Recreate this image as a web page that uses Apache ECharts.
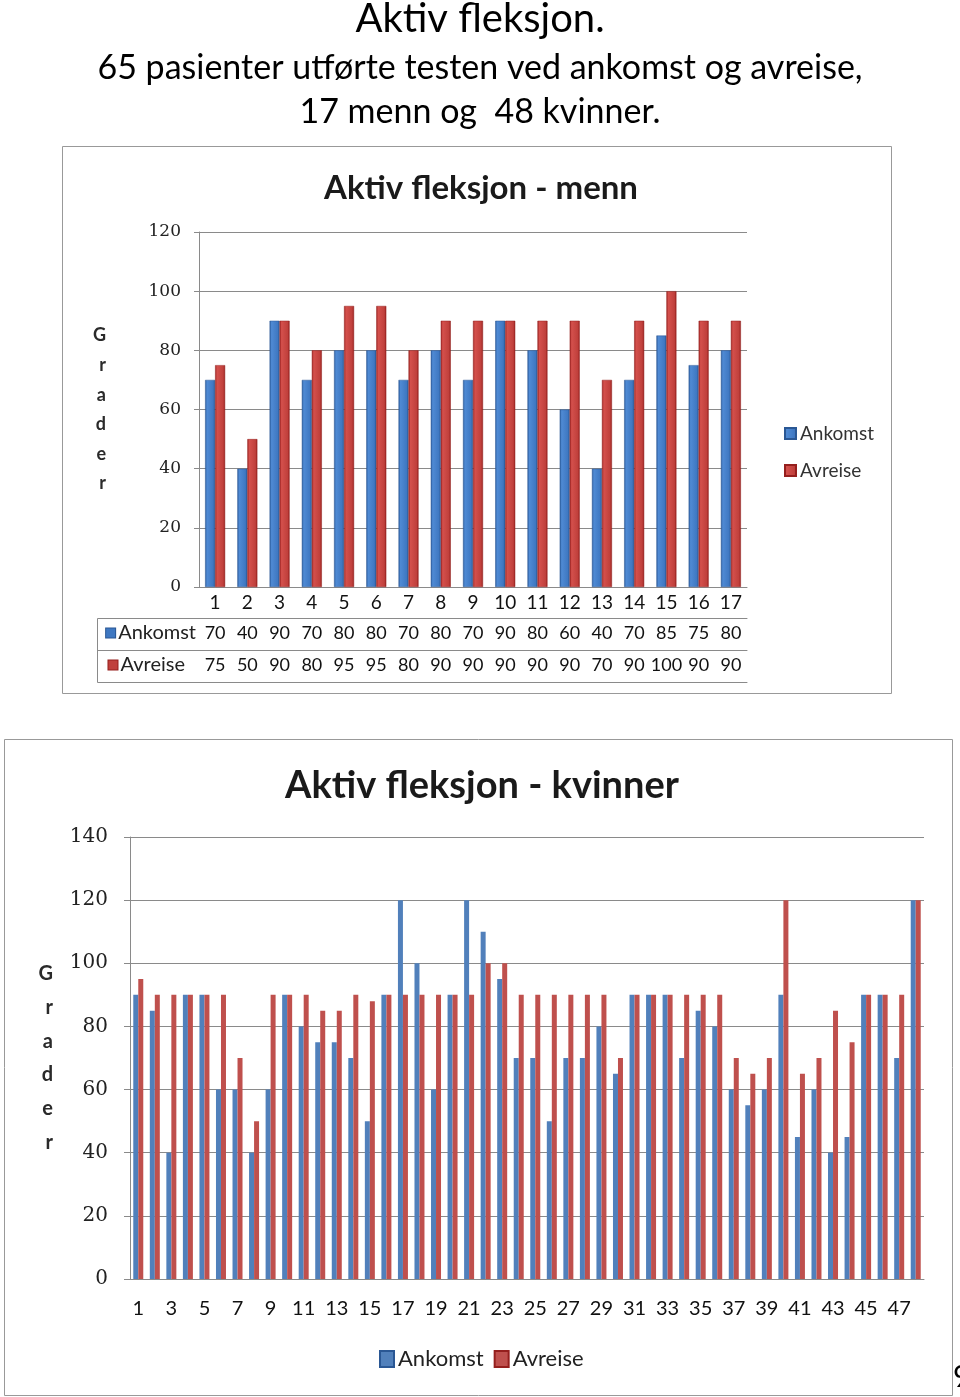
<!DOCTYPE html>
<html>
<head>
<meta charset="utf-8">
<script src="https://cdn.jsdelivr.net/npm/echarts@6/dist/echarts.min.js"></script>
<style>
html,body{margin:0;padding:0;background:#fff;}
#c{width:960px;height:1397px;}
</style>
</head>
<body>
<div id="c"></div>
<script>
// ---- data ----
const menCats = ['1','2','3','4','5','6','7','8','9','10','11','12','13','14','15','16','17'];
const menAnkomst = [70,40,90,70,80,80,70,80,70,90,80,60,40,70,85,75,80];
const menAvreise = [75,50,90,80,95,95,80,90,90,90,90,90,70,90,100,90,90];

const womenCats = ['1','2','3','4','5','6','7','8','9','10','11','12','13','14','15','16','17','18','19','20','21','22','23','24','25','26','27','28','29','30','31','32','33','34','35','36','37','38','39','40','41','42','43','44','45','46','47','48'];
const womenAnkomst = [90,85,40,90,90,60,60,40,60,90,80,75,75,70,50,90,120,100,60,90,120,110,95,70,70,50,70,70,80,65,90,90,90,70,85,80,60,55,60,90,45,60,40,45,90,90,70,120];
const womenAvreise = [95,90,90,90,90,90,70,50,90,90,90,85,85,90,88,90,90,90,90,90,90,100,100,90,90,90,90,90,90,70,90,90,90,90,90,90,70,65,70,120,65,70,85,75,90,90,90,120];

const menTicks = [0,20,40,60,80,100,120];
const womenTicks = [0,20,40,60,80,100,120,140];

// ---- styles ----
const SANS = 'Lato, "Open Sans", sans-serif';
const SERIF = '"DejaVu Serif", serif';
const GRID_C = '#8a8a8a';
const blueGrad = new echarts.graphic.LinearGradient(0,0,1,0,[
  {offset:0,color:'#2c5c9c'},{offset:0.2,color:'#4f8ad4'},{offset:0.8,color:'#3f78c2'},{offset:1,color:'#2a5794'}]);
const redGrad = new echarts.graphic.LinearGradient(0,0,1,0,[
  {offset:0,color:'#9c2422'},{offset:0.2,color:'#d4504c'},{offset:0.8,color:'#c0403c'},{offset:1,color:'#951f1d'}]);
const WBLUE = '#5180bb';
const WRED = '#bf504d';

const chart = echarts.init(document.getElementById('c'), null, {renderer:'canvas'});

const option = {
  backgroundColor:'#fff',
  animation:false,
  title:[
    {text:'Aktiv fleksjon.', left:'center', top:-6, textStyle:{fontFamily:SANS, fontWeight:'normal', fontSize:40, color:'#000'}},
    {text:'65 pasienter utførte testen ved ankomst og avreise,', left:'center', top:46, textStyle:{fontFamily:SANS, fontWeight:'normal', fontSize:34, color:'#000'}},
    {text:'17 menn og  48 kvinner.', left:'center', top:90, textStyle:{fontFamily:SANS, fontWeight:'normal', fontSize:34, color:'#000'}},
    {text:'Aktiv fleksjon - menn', left:476, textAlign:'center', top:167, textStyle:{fontFamily:SANS, fontWeight:'bold', fontSize:33, color:'#1a1a1a'}},
    {text:'Aktiv fleksjon - kvinner', left:477, textAlign:'center', top:762, textStyle:{fontFamily:SANS, fontWeight:'bold', fontSize:38, color:'#1a1a1a'}}
  ],
  legend:[
    {orient:'vertical', left:779, top:419, itemWidth:11, itemHeight:11, itemGap:18, icon:'rect',
     textStyle:{fontFamily:SANS, fontSize:19, color:'#333', padding:[0,0,0,-1]},
     data:['Ankomst','Avreise']},
    {orient:'horizontal', left:374, top:1343, itemWidth:14, itemHeight:16, itemGap:10, icon:'rect',
     textStyle:{fontFamily:SANS, fontSize:22, color:'#222', padding:[0,0,0,-1]},
     data:[{name:'Ankomst', itemStyle:{color:WBLUE}},{name:'Avreise', itemStyle:{color:WRED}}]}
  ],
  grid:[
    {left:199, top:232, width:548, height:355},
    {left:130, top:837, width:794, height:442}
  ],
  xAxis:[
    {gridIndex:0, type:'category', data:menCats, position:'bottom',
     axisLine:{lineStyle:{color:GRID_C}}, axisTick:{length:95, lineStyle:{color:GRID_C}},
     axisLabel:{interval:0, margin:6, fontFamily:SANS, fontSize:19, color:'#111'}},
    {gridIndex:0, type:'category', data:menAnkomst.map(String), position:'bottom', offset:31,
     axisLine:{lineStyle:{color:GRID_C}}, axisTick:{show:false},
     axisLabel:{interval:0, margin:6, fontFamily:SANS, fontSize:18, color:'#111'},
     name:'{s|}{g|}Ankomst', nameLocation:'start', nameGap:3,
     nameTextStyle:{fontFamily:SANS, fontSize:20, color:'#222', align:'right', verticalAlign:'top', padding:[5,0,0,0],
       rich:{s:{width:9, height:9, backgroundColor:'#3f78c2', borderColor:'#2a5794', borderWidth:1}, g:{width:3}}}},
    {gridIndex:0, type:'category', data:menAvreise.map(String), position:'bottom', offset:63,
     axisLine:{lineStyle:{color:GRID_C}}, axisTick:{show:false},
     axisLabel:{interval:0, margin:6, fontFamily:SANS, fontSize:18, color:'#111'},
     name:'{s|}{g|}Avreise', nameLocation:'start', nameGap:14,
     nameTextStyle:{fontFamily:SANS, fontSize:20, color:'#222', align:'right', verticalAlign:'top', padding:[5,0,0,0],
       rich:{s:{width:9, height:9, backgroundColor:'#c0403c', borderColor:'#951f1d', borderWidth:1}, g:{width:3}}}},
    {gridIndex:0, type:'category', data:menCats, position:'bottom', offset:95,
     axisLine:{lineStyle:{color:GRID_C}}, axisTick:{show:false}, axisLabel:{show:false}},
    {gridIndex:1, type:'category', data:womenCats, position:'bottom',
     axisLine:{lineStyle:{color:GRID_C}}, axisTick:{length:6, interval:0, lineStyle:{color:GRID_C}},
     axisLabel:{interval:1, margin:20, fontFamily:SANS, fontSize:20, color:'#111'}}
  ],
  yAxis:[
    {gridIndex:0, type:'value', min:menTicks[0], max:menTicks[menTicks.length-1], interval:20,
     axisLine:{show:true, lineStyle:{color:GRID_C}}, axisTick:{show:true, length:5, lineStyle:{color:GRID_C}},
     splitLine:{lineStyle:{color:GRID_C}},
     axisLabel:{margin:18, fontFamily:SERIF, fontSize:17, color:'#222'},
     name:'G\nr\na\nd\ne\nr', nameLocation:'middle', nameRotate:0, nameGap:93,
     nameTextStyle:{fontFamily:SANS, fontWeight:'bold', fontSize:18, lineHeight:29.6, color:'#2a2a2a'}},
    {gridIndex:1, type:'value', min:womenTicks[0], max:womenTicks[womenTicks.length-1], interval:20,
     axisLine:{show:true, lineStyle:{color:GRID_C}}, axisTick:{show:true, length:6, lineStyle:{color:GRID_C}},
     splitLine:{lineStyle:{color:GRID_C}},
     axisLabel:{margin:22, fontFamily:SERIF, fontSize:20, color:'#222'},
     name:'G\nr\na\nd\ne\nr', nameLocation:'middle', nameRotate:0, nameGap:77,
     nameTextStyle:{fontFamily:SANS, fontWeight:'bold', fontSize:20, lineHeight:33.8, color:'#2a2a2a'}}
  ],
  series:[
    {name:'Ankomst', type:'bar', xAxisIndex:0, yAxisIndex:0, data:menAnkomst, barWidth:10, barGap:'0%',
     itemStyle:{color:blueGrad, borderColor:'#2a5794', borderWidth:0.5}},
    {name:'Avreise', type:'bar', xAxisIndex:0, yAxisIndex:0, data:menAvreise, barWidth:10, barGap:'0%',
     itemStyle:{color:redGrad, borderColor:'#951f1d', borderWidth:0.5}},
    {name:'Ankomst', type:'bar', xAxisIndex:4, yAxisIndex:1, data:womenAnkomst, barWidth:5, barGap:'0%',
     itemStyle:{color:WBLUE}},
    {name:'Avreise', type:'bar', xAxisIndex:4, yAxisIndex:1, data:womenAvreise, barWidth:5, barGap:'0%',
     itemStyle:{color:WRED}}
  ],
  graphic:[
    {type:'rect', shape:{x:62.5, y:146.5, width:829, height:547}, style:{fill:null, stroke:'#999', lineWidth:1}, silent:true, z:-1},
    {type:'rect', shape:{x:4.5, y:739.5, width:948, height:656}, style:{fill:null, stroke:'#999', lineWidth:1}, silent:true, z:-1},
    {type:'polyline', shape:{points:[[199,618.5],[97.5,618.5],[97.5,682.5],[199,682.5]]}, style:{fill:null, stroke:GRID_C, lineWidth:1}, silent:true},
    {type:'line', shape:{x1:97.5, y1:650.5, x2:199, y2:650.5}, style:{stroke:GRID_C, lineWidth:1}, silent:true},
    {type:'text', left:953, top:1362, style:{text:'9', fontFamily:SANS, fontSize:30, fill:'#000'}, silent:true}
  ]
};
chart.setOption(option);
</script>
</body>
</html>
